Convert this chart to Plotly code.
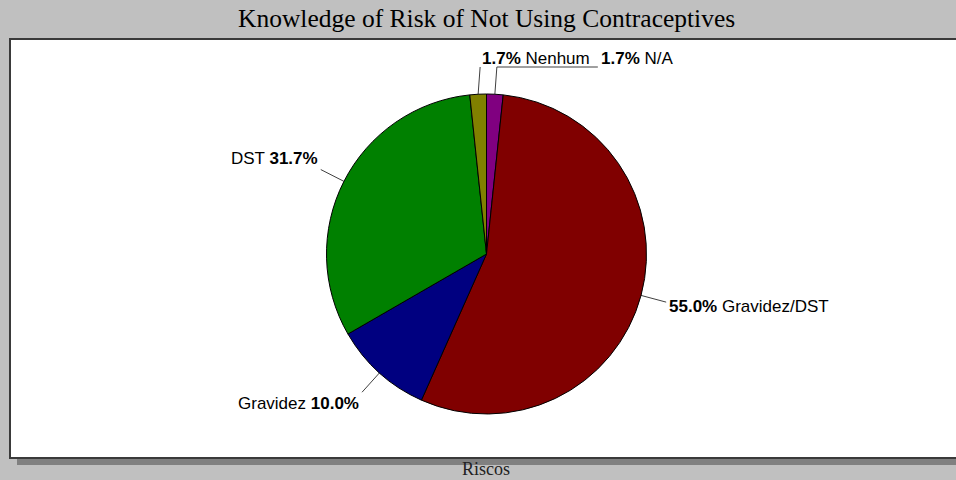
import math
import plotly.graph_objects as go

# Survey answers: which risks respondents associate with not using contraceptives
categories = ["N/A", "Gravidez/DST", "Gravidez", "DST", "Nenhum"]
counts = [1, 33, 6, 19, 1]
colors = ["#800080", "#800000", "#000080", "#008000", "#808000"]
title_text = "Knowledge of Risk of Not Using Contraceptives"
axis_title = "Riscos"

W, H = 956, 480
CX, CY, R = 486.5, 254.0, 160.0
LABEL_FONT = "Liberation Sans, Arial, sans-serif"
SERIF_FONT = "Liberation Serif, Times New Roman, serif"
FS = 17

# Approximate Arial advance widths (em) used to lay out labels side by side
ARIAL_W = {".": .278, "%": .889, " ": .278, "/": .278, "N": .722, "A": .667,
           "m": .833, "i": .222, "r": .333, "v": .5, "z": .5, "G": .778,
           "D": .722, "S": .667, "T": .611}


def text_width(s, size=FS):
    return sum(ARIAL_W.get(ch, .556) for ch in s) * size


total = sum(counts)
pct = [100.0 * c / total for c in counts]

fig = go.Figure()

# Chart frame: drop shadow and white plot panel
fig.add_shape(type="rect", xref="x", yref="y", x0=17, x1=W + 10, y0=46, y1=465,
              fillcolor="#808080", line_width=0, layer="below")
fig.add_shape(type="rect", xref="x", yref="y", x0=10, x1=W + 10, y0=39, y1=458,
              fillcolor="white", line=dict(color="#3a3a3a", width=2), layer="below")

fig.add_trace(go.Pie(
    labels=categories, values=counts, sort=False, direction="clockwise",
    rotation=0, marker=dict(colors=colors, line=dict(color="black", width=1)),
    textinfo="none", hoverinfo="skip", showlegend=False,
    domain=dict(x=[(CX - R) / W, (CX + R) / W],
                y=[(H - (CY + R)) / H, (H - (CY - R)) / H]),
))

lx, ly = [], []
annotations = []
top_items = []
cum = 0
for name, c, p in zip(categories, counts, pct):
    mid = (cum + c / 2.0) / total * 360.0
    cum += c
    a = math.radians(mid)
    sx, sy = math.sin(a), -math.cos(a)
    px, py = CX + R * sx, CY + R * sy
    if min(mid, 360 - mid) < 15:
        top_items.append((mid if mid < 180 else mid - 360, name, p, px, py))
        continue
    ox, oy = CX + (R + 26) * sx, CY + (R + 26) * sy
    lx += [px, ox, None]
    ly += [py, oy, None]
    right = sx >= 0
    text = f"<b>{p:.1f}%</b> {name}" if right else f"{name} <b>{p:.1f}%</b>"
    if -sy > 0.3:
        yanchor, ty = "bottom", oy
    elif -sy < -0.3:
        yanchor, ty = "top", oy
    else:
        # text sits just below the end of a near-horizontal leader
        yanchor, ty = "middle", oy + 4
    annotations.append(dict(
        x=ox + (1 if right else -1), y=ty, xref="x", yref="y", text=text,
        showarrow=False, xanchor="left" if right else "right", yanchor=yanchor,
        font=dict(family=LABEL_FONT, size=FS, color="black")))

# Thin slices at the top: labels in one row above the pie
top_items.sort()
row_y = CY - R - 36
line_y = CY - R - 27
cursor = None
for i, (_, name, p, px, py) in enumerate(top_items):
    if cursor is None:
        cursor = px + 2
        lx += [px, cursor, None]
        ly += [py, line_y, None]
    else:
        lx += [px, px + 2, cursor - 1, None]
        ly += [py, line_y, line_y, None]
    annotations.append(dict(
        x=cursor, y=row_y, xref="x", yref="y", text=f"<b>{p:.1f}%</b> {name}",
        showarrow=False, xanchor="left", yanchor="middle",
        font=dict(family=LABEL_FONT, size=FS, color="black")))
    cursor += text_width(f"{p:.1f}% {name}") + 11

fig.add_trace(go.Scatter(x=lx, y=ly, mode="lines", line=dict(color="#404040", width=1),
                         hoverinfo="skip", showlegend=False))

annotations.append(dict(x=486 / W, y=1 - 19 / H, xref="paper", yref="paper",
                        text=title_text, showarrow=False, xanchor="center", yanchor="middle",
                        font=dict(family=SERIF_FONT, size=25.5, color="black")))
annotations.append(dict(x=486 / W, y=0, xref="paper", yref="paper",
                        text=axis_title, showarrow=False, xanchor="center", yanchor="bottom",
                        borderpad=0,
                        font=dict(family=SERIF_FONT, size=18, color="#222222")))

fig.update_layout(
    width=W, height=H, margin=dict(l=0, r=0, t=0, b=0),
    paper_bgcolor="#c0c0c0", plot_bgcolor="rgba(0,0,0,0)",
    xaxis=dict(range=[0, W], visible=False, fixedrange=True),
    yaxis=dict(range=[H, 0], visible=False, fixedrange=True),
    annotations=annotations,
)

fig.write_html("out.html")
